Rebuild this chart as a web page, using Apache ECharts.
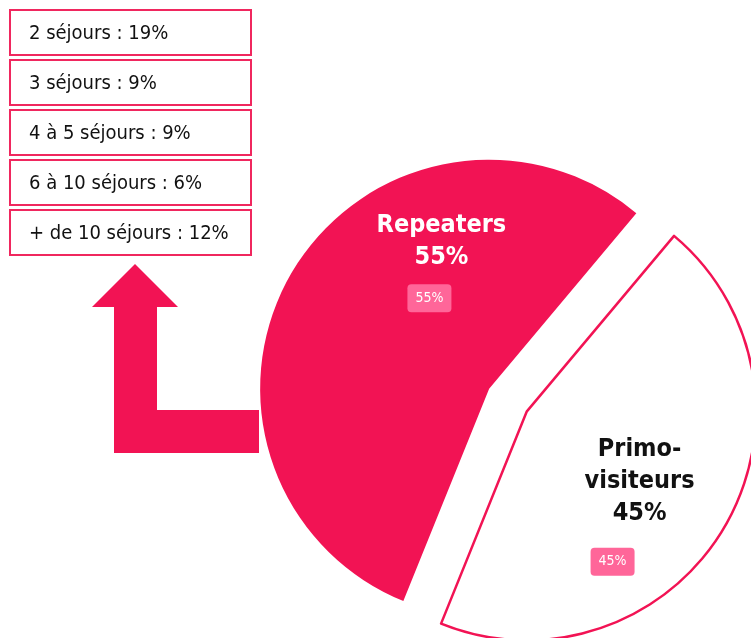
<!DOCTYPE html>
<html>
<head>
<meta charset="utf-8">
<script src="https://cdn.jsdelivr.net/npm/echarts@6/dist/echarts.min.js"></script>
<style>
  html, body { margin: 0; padding: 0; background: #fff; }
  #chartContainer { width: 751px; height: 638px; }
</style>
</head>
<body>
<div id="chartContainer"></div>
<script>
// visitors split
const categories = ['Repeaters', 'Primo-visiteurs'];
const shareValues = [55, 45];

// breakdown of the repeaters
const stayLabels = ['2 séjours', '3 séjours', '4 à 5 séjours', '6 à 10 séjours', '+ de 10 séjours'];
const stayValues = [19, 9, 9, 6, 12];

const PINK = '#F21354';
const BADGE = '#FF6699';
const FONT = '"DejaVu Sans Condensed", "DejaVu Sans", sans-serif';

let chart = null;

document.addEventListener('DOMContentLoaded', function() {
    chart = echarts.init(document.getElementById('chartContainer'));
    updateChart();
});

function buildBoxes() {
    const items = [];
    stayLabels.forEach((lab, i) => {
        const y = 10 + i * 50;
        items.push({
            type: 'rect',
            shape: { x: 10, y: y, width: 241, height: 45 },
            style: { fill: '#fff', stroke: '#F0275E', lineWidth: 2 }
        });
        items.push({
            type: 'text',
            style: {
                text: lab + ' : ' + stayValues[i] + '%',
                x: 29, y: y + 24,
                verticalAlign: 'middle',
                font: '20px ' + FONT,
                fill: '#111'
            }
        });
    });
    // L-shaped arrow pointing up to the boxes
    items.push({
        type: 'polygon',
        shape: {
            points: [[135, 264], [178, 307], [157, 307], [157, 410], [259, 410],
                     [259, 453], [114, 453], [114, 307], [92, 307]]
        },
        style: { fill: PINK }
    });
    return items;
}

function updateChart() {
    if (!chart) return;

    const pieData = categories.map((c, i) => ({
        name: c,
        value: shareValues[i],
        selected: true,
        itemStyle: i === 0
            ? { color: PINK, borderWidth: 0 }
            : { color: '#fff', borderColor: PINK, borderWidth: 2.5 }
    }));

    const bigDelta = [{ dx: 53, dy: -87 }, { dx: 12, dy: 10 }];
    const badgeDelta = [{ dx: 41, dy: -30 }, { dx: -15, dy: 90 }];

    const base = {
        type: 'pie',
        center: [508, 400],
        radius: 229,
        startAngle: 248,
        selectedMode: 'multiple',
        selectedOffset: 22,
        animation: false,
        labelLine: { show: false },
        emphasis: { disabled: true }
    };

    const option = {
        backgroundColor: '#fff',
        graphic: buildBoxes(),
        series: [
            Object.assign({}, base, {
                data: pieData,
                label: {
                    show: true,
                    position: 'inside',
                    formatter: p => p.name.replace('-', '-\n') + '\n' + p.value + '%',
                    fontFamily: FONT,
                    fontWeight: 'bold',
                    fontSize: 25,
                    lineHeight: 32,
                    color: '#111'
                },
                labelLayout: p => bigDelta[p.dataIndex]
            }),
            Object.assign({}, base, {
                silent: true,
                data: categories.map((c, i) => ({
                    name: c, value: shareValues[i], selected: true,
                    itemStyle: { color: 'rgba(0,0,0,0)', borderWidth: 0 }
                })),
                label: {
                    show: true,
                    position: 'inside',
                    formatter: p => p.value + '%',
                    fontFamily: FONT,
                    fontSize: 14,
                    color: '#fff',
                    backgroundColor: BADGE,
                    borderRadius: 4,
                    padding: [7, 8]
                },
                labelLayout: p => badgeDelta[p.dataIndex]
            })
        ]
    };
    // white text on the filled slice
    option.series[0].data[0].label = { color: '#fff' };

    chart.setOption(option, true);
}
</script>
</body>
</html>
